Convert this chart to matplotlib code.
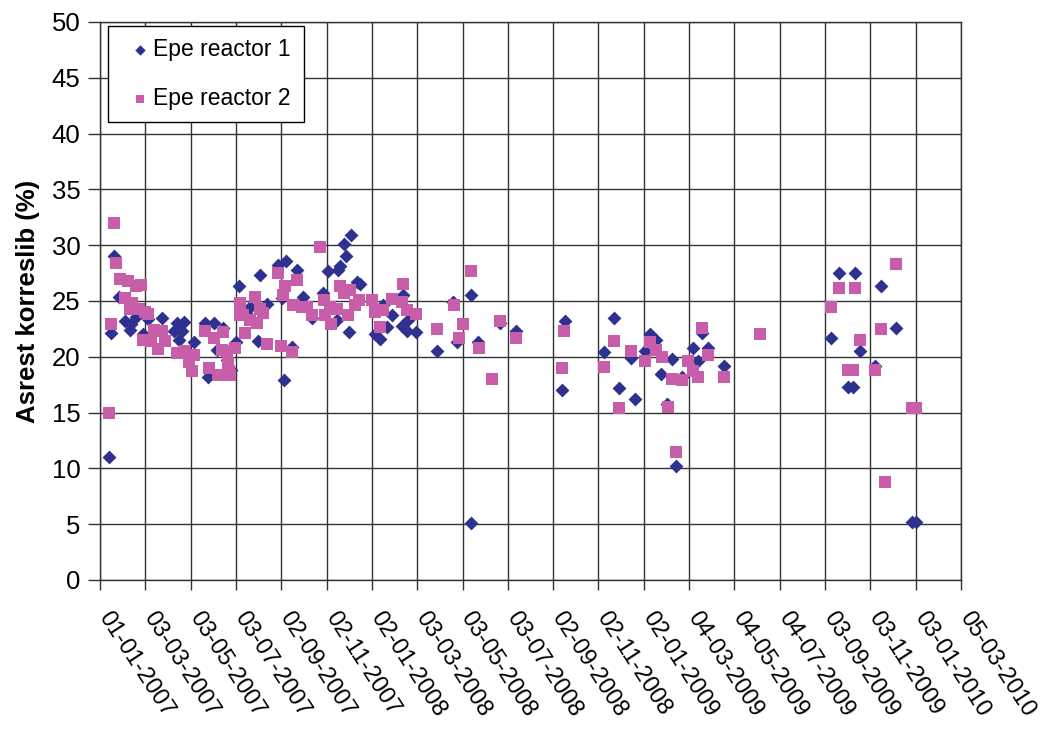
import matplotlib
matplotlib.use("Agg")
import matplotlib.pyplot as plt
import matplotlib.dates as mdates
import matplotlib.transforms as mtransforms
import pandas as pd

plt.rcParams['font.family'] = ['Liberation Sans', 'DejaVu Sans']

# Epe reactor 1 – sample dates and residual values (%)
r1_dates = [
    "2007-01-13", "2007-01-16", "2007-01-20", "2007-01-26", "2007-02-04", "2007-02-10",
    "2007-02-12", "2007-02-19", "2007-02-28", "2007-03-07", "2007-03-25", "2007-04-11",
    "2007-04-14", "2007-04-17", "2007-04-21", "2007-04-24", "2007-05-08", "2007-05-22",
    "2007-05-27", "2007-06-03", "2007-06-07", "2007-06-16", "2007-06-21", "2007-06-26",
    "2007-07-03", "2007-07-07", "2007-07-17", "2007-07-22", "2007-08-01", "2007-08-05",
    "2007-08-14", "2007-08-29", "2007-09-03", "2007-09-05", "2007-09-09", "2007-09-16",
    "2007-09-23", "2007-10-01", "2007-10-13", "2007-10-28", "2007-11-04", "2007-11-16",
    "2007-11-18", "2007-11-20", "2007-11-25", "2007-11-28", "2007-12-02", "2007-12-05",
    "2007-12-13", "2007-12-17", "2008-01-06", "2008-01-13", "2008-01-17", "2008-01-22",
    "2008-01-29", "2008-02-11", "2008-02-13", "2008-02-18", "2008-02-20", "2008-03-02",
    "2008-03-30", "2008-04-20", "2008-04-26", "2008-05-14", "2008-05-15", "2008-05-24",
    "2008-06-22", "2008-07-14", "2008-09-14", "2008-09-18", "2008-11-10", "2008-11-23",
    "2008-11-30", "2008-12-16", "2008-12-21", "2009-01-04", "2009-01-11", "2009-01-18",
    "2009-01-25", "2009-02-02", "2009-02-09", "2009-02-15", "2009-02-23", "2009-03-09",
    "2009-03-16", "2009-03-22", "2009-03-30", "2009-04-20", "2009-09-11", "2009-09-22",
    "2009-10-04", "2009-10-10", "2009-10-13", "2009-10-20", "2009-11-09", "2009-11-17",
    "2009-12-08", "2009-12-29", "2010-01-04",
]
r1_values = [
    11.0, 22.1, 29.0, 25.4, 23.2, 22.4,
    22.9, 23.6, 22.0, 23.4, 23.5, 22.3,
    23.0, 21.5, 22.3, 23.1, 21.3, 23.0,
    18.2, 23.0, 20.6, 22.6, 19.7, 18.8,
    21.3, 26.3, 23.9, 24.5, 21.4, 27.3,
    24.7, 28.2, 25.3, 17.9, 28.6, 20.9,
    27.8, 25.4, 23.5, 25.7, 27.7, 23.3,
    27.8, 28.1, 30.1, 29.0, 22.2, 30.9,
    26.7, 26.5, 22.0, 21.6, 24.6, 22.7,
    23.7, 22.8, 25.5, 22.3, 23.3, 22.2,
    20.5, 24.9, 21.3, 25.5, 5.1, 21.3,
    23.0, 22.3, 17.0, 23.2, 20.4, 23.5,
    17.2, 19.9, 16.2, 20.5, 22.0, 21.5,
    18.5, 15.8, 19.8, 10.2, 18.2, 20.8,
    19.6, 22.1, 20.8, 19.2, 21.7, 27.5,
    17.3, 17.3, 27.5, 20.5, 19.2, 26.3,
    22.6, 5.2, 5.2,
]

# Epe reactor 2 – sample dates and residual values (%)
r2_dates = [
    "2007-01-13", "2007-01-16", "2007-01-20", "2007-01-23", "2007-01-28", "2007-02-04",
    "2007-02-07", "2007-02-10", "2007-02-13", "2007-02-18", "2007-02-22", "2007-02-25",
    "2007-02-28", "2007-03-03", "2007-03-07", "2007-03-11", "2007-03-14", "2007-03-20",
    "2007-03-25", "2007-03-29", "2007-04-14", "2007-04-25", "2007-05-01", "2007-05-05",
    "2007-05-08", "2007-05-22", "2007-05-28", "2007-06-03", "2007-06-09", "2007-06-14",
    "2007-06-16", "2007-06-21", "2007-06-22", "2007-06-23", "2007-06-25", "2007-07-02",
    "2007-07-08", "2007-07-09", "2007-07-13", "2007-07-15", "2007-07-22", "2007-07-29",
    "2007-07-31", "2007-08-04", "2007-08-09", "2007-08-14", "2007-08-29", "2007-09-02",
    "2007-09-04", "2007-09-07", "2007-09-16", "2007-09-18", "2007-09-23", "2007-09-30",
    "2007-10-06", "2007-10-13", "2007-10-24", "2007-10-29", "2007-10-31", "2007-11-07",
    "2007-11-08", "2007-11-16", "2007-11-20", "2007-11-25", "2007-12-01", "2007-12-04",
    "2007-12-10", "2007-12-16", "2008-01-02", "2008-01-06", "2008-01-13", "2008-01-17",
    "2008-01-29", "2008-02-11", "2008-02-13", "2008-02-18", "2008-03-02", "2008-03-30",
    "2008-04-21", "2008-04-28", "2008-05-04", "2008-05-14", "2008-05-25", "2008-06-11",
    "2008-06-22", "2008-07-14", "2008-09-14", "2008-09-17", "2008-11-09", "2008-11-23",
    "2008-11-30", "2008-12-16", "2009-01-04", "2009-01-11", "2009-01-19", "2009-01-26",
    "2009-02-03", "2009-02-09", "2009-02-15", "2009-02-22", "2009-03-03", "2009-03-09",
    "2009-03-16", "2009-03-22", "2009-03-30", "2009-04-20", "2009-06-08", "2009-09-11",
    "2009-09-22", "2009-10-04", "2009-10-10", "2009-10-13", "2009-10-20", "2009-11-09",
    "2009-11-17", "2009-11-23", "2009-12-08", "2009-12-29", "2010-01-04",
]
r2_values = [
    15.0, 22.9, 32.0, 28.4, 27.0, 25.3,
    26.8, 24.3, 24.8, 26.3, 24.3, 26.4,
    21.5, 24.0, 23.8, 21.4, 22.4, 20.7,
    22.3, 21.4, 20.3, 20.5, 19.5, 18.7,
    20.2, 22.3, 19.0, 21.7, 18.4, 20.6,
    22.2, 20.5, 19.4, 18.7, 18.4, 20.8,
    24.8, 23.7, 23.7, 22.1, 23.3, 25.4,
    23.0, 24.3, 23.9, 21.1, 27.5, 21.0,
    25.5, 26.3, 20.4, 24.6, 26.9, 24.5,
    24.5, 23.7, 29.8, 25.1, 23.7, 24.5,
    22.9, 24.3, 26.3, 25.7, 23.7, 26.0,
    24.6, 25.1, 25.1, 24.0, 22.7, 24.2,
    25.2, 24.9, 26.5, 24.2, 23.8, 22.5,
    24.6, 21.7, 22.9, 27.7, 20.8, 18.0,
    23.2, 21.7, 19.0, 22.3, 19.1, 21.4,
    15.4, 20.5, 19.6, 21.3, 20.6, 20.0,
    15.5, 18.0, 11.5, 17.9, 19.6, 18.7,
    18.2, 22.6, 20.2, 18.2, 22.0, 24.5,
    26.2, 18.8, 18.8, 26.2, 21.5, 18.8,
    22.5, 8.8, 28.3, 15.4, 15.4,
]

series_labels = ["Epe reactor 1", "Epe reactor 2"]
y_label = "Asrest korreslib (%)"
x_start, x_end = "2007-01-01", "2010-03-05"
tick_step_days = 61

fig = plt.figure(figsize=(10.43, 7.29), dpi=100)
ax = fig.add_axes([0.0959, 0.2044, 0.8255, 0.7655])

ax.scatter(pd.to_datetime(r1_dates), r1_values, marker="D", s=50,
           color="#2E3190", linewidths=0, label=series_labels[0], zorder=3)
ax.scatter(pd.to_datetime(r2_dates), r2_values, marker="s", s=72,
           color="#C85DAA", linewidths=0, label=series_labels[1], zorder=4)

start = pd.Timestamp(x_start)
end = pd.Timestamp(x_end)
ticks = pd.date_range(start, end, freq=f"{tick_step_days}D")
ax.set_xlim(start, end)
ax.set_xticks(ticks)
ax.xaxis.set_major_formatter(mdates.DateFormatter("%d-%m-%Y"))

ax.set_ylim(0, 50)
ax.set_yticks(range(0, 51, 5))

ax.grid(True, color="#333333", linewidth=1.0)
ax.set_axisbelow(True)
for sp in ax.spines.values():
    sp.set_color("#333333")
    sp.set_linewidth(1.0)

ax.tick_params(axis="y", labelsize=18.5, length=9, width=1, color="#333333", pad=5)
ax.tick_params(axis="x", labelsize=17, length=7, width=1, color="#333333", pad=17.4)

# slanted date labels, nudged slightly right of their ticks
shift = mtransforms.ScaledTranslation(2.2 / 72, 0, fig.dpi_scale_trans)
for lbl in ax.get_xticklabels():
    lbl.set_rotation(-57)
    lbl.set_ha("left")
    lbl.set_va("center")
    lbl.set_rotation_mode("anchor")
    lbl.set_transform(lbl.get_transform() + shift)

ax.set_ylabel(y_label, fontsize=18.5, fontweight="bold", labelpad=8.5)

leg = ax.legend(loc="upper left", bbox_to_anchor=(0.0093, 0.993), borderaxespad=0,
                fontsize=16.5, frameon=True, fancybox=False, edgecolor="#000000",
                framealpha=1, borderpad=0.55, labelspacing=1.1,
                handletextpad=-0.22, handlelength=1.65, markerscale=0.75)
leg.get_frame().set_linewidth(1.0)

fig.savefig("out.png", dpi=100, facecolor="white")
